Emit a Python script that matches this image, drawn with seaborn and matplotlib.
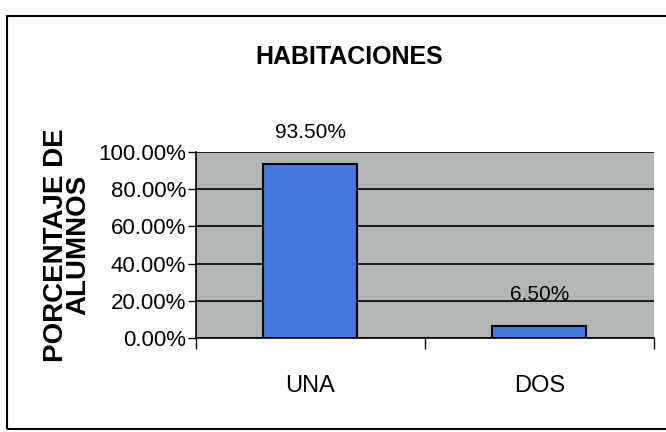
import matplotlib
matplotlib.use("Agg")
import matplotlib.pyplot as plt
import seaborn as sns
import pandas as pd
from matplotlib.patches import Rectangle
from matplotlib.ticker import FuncFormatter, FixedLocator
from matplotlib import font_manager

# data
categories = ["UNA", "DOS"]
percentages = [93.5, 6.5]
title = "HABITACIONES"
ylabel = "PORCENTAJE DE\nALUMNOS"

df = pd.DataFrame({"cat": categories, "pct": percentages})

sns.set_theme(style="white")
plt.rcParams['font.family'] = ['Liberation Sans', 'DejaVu Sans']
plt.rcParams['text.color'] = 'black'
plt.rcParams['xtick.color'] = 'black'
plt.rcParams['ytick.color'] = 'black'

# the scanned excel font is tall and squeezed, use the narrow cut if there
names = {f.name for f in font_manager.fontManager.ttflist}
narrow = 'Liberation Sans Narrow' if 'Liberation Sans Narrow' in names else 'Liberation Sans'

fig = plt.figure(figsize=(6.66, 4.32), dpi=100)
ax = fig.add_axes([0.294, 0.2176, 0.688, 0.4306])

sns.barplot(data=df, x="cat", y="pct", ax=ax, color="#4678e0",
            edgecolor="black", linewidth=1.5, width=0.41, saturation=1)

ax.set_facecolor("#b2b6b6")
ax.set_xlim(-0.5, 1.5)
ax.set_ylim(0, 100)
ax.set_yticks([0, 20, 40, 60, 80, 100])
ax.yaxis.set_major_formatter(FuncFormatter(lambda v, p: f"{v:.2f}%"))
ax.grid(axis="y", color="black", linewidth=1.2)
ax.set_axisbelow(True)

# category ticks sit between categories (excel style)
ax.xaxis.set_minor_locator(FixedLocator([-0.5, 0.5, 1.5]))
ax.tick_params(axis="x", which="minor", length=8, width=1, color="black", direction="out")
ax.tick_params(axis="x", which="major", length=0, pad=27)
ax.tick_params(axis="y", length=6, width=1, color="black", direction="out", pad=1)
ax.xaxis.set_tick_params(which="minor", bottom=True)
ax.yaxis.set_tick_params(left=True)
for t in ax.get_xticklabels():
    t.set_fontfamily(narrow)
    t.set_fontsize(17)
for t in ax.get_yticklabels():
    t.set_fontfamily(narrow)
    t.set_fontsize(16)

for s in ["top", "right"]:
    ax.spines[s].set_visible(False)
for s in ["left", "bottom"]:
    ax.spines[s].set_color("black")
    ax.spines[s].set_linewidth(1.2)

ax.set_xlabel("")
ax.set_ylabel("")
fig.text(0.101, 0.433, ylabel, rotation=90, ha="center", va="center",
         multialignment="center", fontsize=20, fontweight="bold", linespacing=0.82)

for i, v in enumerate(percentages):
    ax.annotate(f"{v:.2f}%", (i, v), xytext=(0, 16), textcoords="offset points",
                ha="center", va="bottom", fontsize=15, family=narrow)

fig.text(0.524, 0.868, title, ha="center", va="center", fontsize=18,
         fontweight="bold", family=narrow)

# outer chart border
fig.patches.append(Rectangle((0.011, 0.006), 1.0, 0.958, transform=fig.transFigure,
                             fill=False, edgecolor="black", linewidth=1.5))

fig.savefig("out.png", dpi=100)
